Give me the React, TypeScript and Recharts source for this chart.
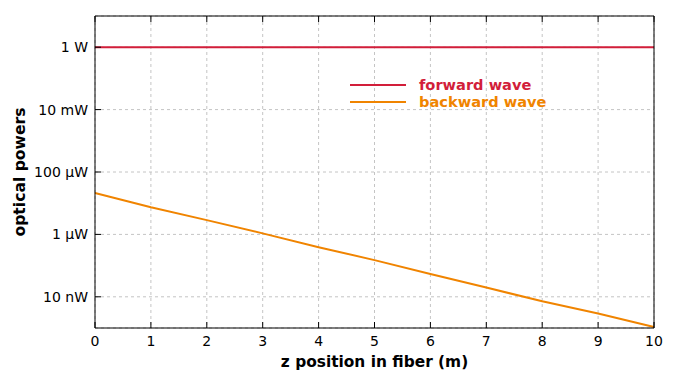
import { LineChart, Line, XAxis, YAxis, CartesianGrid, Legend } from "recharts";

const zPositions = [0, 1, 2, 3, 4, 5, 6, 7, 8, 9, 10];
const forwardPower = [1, 1, 1, 1, 1, 1, 1, 1, 1, 1, 1];
const backwardPower = [2.12e-5, 7.4e-6, 2.87e-6, 1.08e-6, 3.9e-7, 1.5e-7, 5.4e-8, 1.98e-8, 7.2e-9, 2.9e-9, 1.08e-9];

const yTicks = [1e-8, 1e-6, 1e-4, 1e-2, 1];
const yTickLabels = ["10 nW", "1 µW", "100 µW", "10 mW", "1 W"];
const xTicks = [0, 1, 2, 3, 4, 5, 6, 7, 8, 9, 10];

const seriesNames = ["forward wave", "backward wave"];
const RED = "#d21e3a";
const ORANGE = "#f08400";

const data = zPositions.map((z, i) => ({ z, forward: forwardPower[i], backward: backwardPower[i] }));

const font = "'DejaVu Sans', Verdana, sans-serif";

function LegendBox() {
  const colors = [RED, ORANGE];
  return (
    <div style={{ fontFamily: font, fontSize: 14.6, fontWeight: "bold", lineHeight: "17px", textAlign: "left" }}>
      {seriesNames.map((name, i) => (
        <div key={name} style={{ display: "flex", alignItems: "center", height: 17 }}>
          <svg width={56} height={4} style={{ marginRight: 13 }}>
            <line x1={0} x2={56} y1={2} y2={2} stroke={colors[i]} strokeWidth={2} />
          </svg>
          <span style={{ color: colors[i] }}>{name}</span>
        </div>
      ))}
    </div>
  );
}

export default function App() {
  return (
    <div style={{ position: "absolute", left: 0, top: 0, background: "#fff" }}>
      <LineChart width={700} height={375} data={data} margin={{ top: 15, right: 45, bottom: 0, left: 0 }}>
        <CartesianGrid stroke="#c4c4c4" strokeDasharray="3 3" />
        <XAxis
          dataKey="z"
          type="number"
          domain={[0, 10]}
          ticks={xTicks}
          height={47}
          stroke="#000"
          tickSize={-6}
          tickMargin={14}
          tick={{ fill: "#000", fontSize: 14, fontFamily: font }}
          label={{
            value: "z position in fiber (m)",
            position: "insideBottom",
            offset: 8,
            style: { fontFamily: font, fontSize: 15.4, fontWeight: "bold", fill: "#000" },
          }}
        />
        <XAxis
          xAxisId="top"
          dataKey="z"
          type="number"
          domain={[0, 10]}
          ticks={xTicks}
          orientation="top"
          height={1}
          stroke="#000"
          tickSize={-6}
          tick={() => <g />}
        />
        <YAxis
          scale="log"
          type="number"
          domain={[1e-9, 10]}
          allowDataOverflow
          ticks={yTicks}
          width={95}
          stroke="#000"
          tickSize={-6}
          tickMargin={13}
          tickFormatter={(v: number) => yTickLabels[yTicks.indexOf(v)] ?? ""}
          tick={{ fill: "#000", fontSize: 14, fontFamily: font }}
          label={{
            value: "optical powers",
            angle: -90,
            position: "insideLeft",
            offset: 19,
            style: { fontFamily: font, fontSize: 15.6, fontWeight: "bold", fill: "#000", textAnchor: "middle" },
          }}
        />
        <YAxis
          yAxisId="right"
          orientation="right"
          scale="log"
          type="number"
          domain={[1e-9, 10]}
          allowDataOverflow
          ticks={yTicks}
          width={1}
          stroke="#000"
          tickLine={false}
          tick={() => <g />}
        />
        <Legend
          layout="horizontal"
          verticalAlign="middle"
          align="center"
          wrapperStyle={{ position: "absolute", left: 350, top: 76, width: 230 }}
          content={() => <LegendBox />}
        />
        <Line
          dataKey="forward"
          xAxisId="top"
          yAxisId="right"
          name={seriesNames[0]}
          stroke={RED}
          strokeWidth={2}
          dot={false}
          isAnimationActive={false}
        />
        <Line
          dataKey="backward"
          name={seriesNames[1]}
          stroke={ORANGE}
          strokeWidth={2}
          dot={false}
          isAnimationActive={false}
        />
      </LineChart>
    </div>
  );
}
